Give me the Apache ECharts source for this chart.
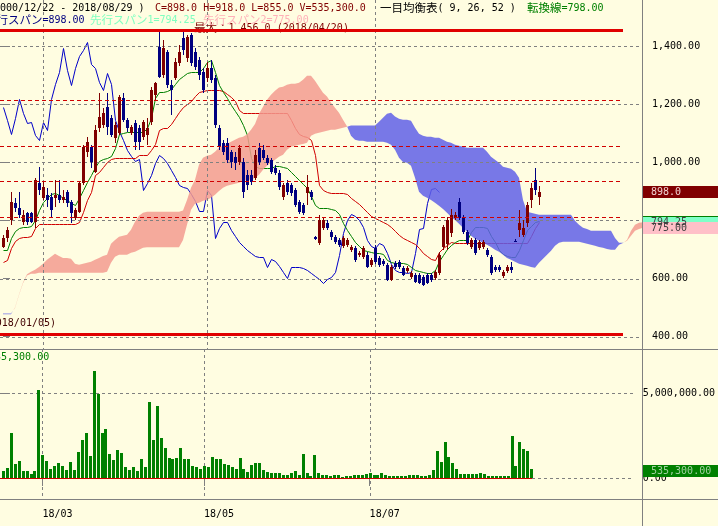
<!DOCTYPE html>
<html><head><meta charset="utf-8">
<script src="https://cdn.jsdelivr.net/npm/echarts@6/dist/echarts.min.js"></script>
<style>html,body{margin:0;padding:0;background:#fffde1;}#c{width:718px;height:526px;}</style>
</head><body><div id="c"></div><script>
// ---- trading days (categories) ----
const febDays = [15,16,19,20,21,22,23,26,27,28];
const marDays = [1,2,5,6,7,8,9,12,13,14,15,16,19,20,22,23,26,27,28,29,30];
const aprDays = [2,3,4,5,6,9,10,11,12,13,16,17,18,19,20,23,24,25,26,27];
const mayDays = [1,2,7,8,9,10,11,14,15,16,17,18,21,22,23,24,25,28,29,30,31];
const junDays = [1,4,5,6,7,8,11,12,13,14,15,18,19,20,21,22,25,26,27,28,29];
const julDays = [2,3,4,5,6,9,10,11,12,13,17,18,19,20,23,24,25,26,27,30,31];
const augDays = [1,2,3,6,7,8,9,10,13,14,15,16,17,20,21,22,23,24,27,28,29];
const labelMonths = ['2018/03','2018/05','2018/07'];

// ---- prices ----
const opens  = [709,740,802,861,844,796,827,827,796,930,878,889,882,878,889,871,899,864,809,830,930,1037,1054,968,1120,1130,1192,1154,1085,1102,1223,1147,1102,1137,1120,1089,1096,1140,1233,1399,1302,1382,1268,1292,1344,1430,1361,1440,1382,1354,1313,1292,1327,1292,1120,1068,1068,1037,1020,1002,1002,958,958,947,1051,1044,1016,1009,982,964,882,930,923,906,864,854,896,899,744,723,775,792,761,744,733,713,716,699,706,682,675,682,647,706,671,661,647,596,654,658,637,627,606,613,613,606,613,613,602,620,709,720,758,809,864,813,761,709,733,706,709,699,675,640,640,609,627,640,730,768,751,792,871,940,882];
const closes = [740,768,864,844,820,820,796,796,940,906,916,871,837,889,871,882,861,827,837,930,1054,1071,1002,1113,1158,1171,1123,1096,1130,1227,1147,1120,1123,1071,1071,1140,1120,1251,1275,1296,1396,1268,1251,1347,1382,1389,1433,1344,1330,1302,1251,1327,1285,1130,1054,1037,1009,1002,999,1051,899,923,933,1027,1002,1016,999,968,964,916,923,899,896,854,830,827,916,882,737,802,802,775,744,727,716,740,733,709,664,689,706,640,664,658,647,651,596,640,640,640,613,637,620,589,585,578,585,596,623,682,778,802,820,820,809,761,723,733,689,727,727,682,620,630,630,623,640,630,727,792,775,854,913,906,898];
const highs  = [751,778,899,878,899,837,830,830,947,985,933,913,896,940,940,906,906,871,844,933,1061,1089,1061,1130,1240,1189,1240,1164,1140,1233,1240,1154,1130,1147,1130,1147,1154,1261,1278,1451,1423,1389,1285,1361,1406,1456,1440,1447,1396,1364,1327,1347,1354,1302,1130,1078,1085,1044,1037,1061,1016,975,975,1044,1068,1061,1027,1016,992,975,930,940,930,913,871,861,958,906,747,820,813,802,768,751,740,747,740,716,713,696,713,692,671,716,678,668,654,647,661,664,644,644,627,620,620,613,620,620,630,692,785,813,840,830,878,820,768,740,740,733,733,706,682,647,647,630,647,658,735,837,802,864,930,982,918];
const lows   = [706,727,785,830,809,785,785,792,775,889,871,847,813,847,861,861,847,792,802,827,923,1020,982,964,1106,1120,1096,1089,1068,1096,1140,1106,1096,1044,1044,1078,1061,1130,1216,1292,1292,1258,1164,1285,1333,1371,1347,1333,1320,1285,1240,1278,1275,1120,1044,1027,999,982,975,992,878,906,923,940,992,1009,992,961,958,906,871,889,885,847,823,820,854,871,733,716,768,768,733,720,709,706,709,692,658,675,668,637,640,651,640,644,592,592,633,633,609,620,599,585,582,575,582,589,596,613,699,699,744,800,802,754,716,702,682,699,702,675,613,623,623,602,620,620,725,744,744,778,844,889,855];
const volumes = [392000,588000,2650000,843000,1020000,431000,392000,255000,431000,5200000,1370000,1020000,549000,725000,882000,725000,490000,961000,490000,1550000,2250000,2650000,1310000,6310000,4960000,2650000,2880000,1430000,1080000,1670000,1470000,667000,490000,627000,431000,1140000,667000,4490000,2250000,4250000,2350000,1780000,1180000,1120000,1200000,1780000,1140000,1120000,725000,647000,549000,725000,647000,1250000,1140000,1140000,824000,765000,667000,549000,1200000,549000,373000,765000,882000,882000,490000,373000,314000,314000,314000,196000,196000,314000,431000,196000,1430000,314000,137000,1370000,314000,196000,196000,137000,196000,196000,78000,137000,137000,196000,196000,196000,235000,294000,157000,196000,294000,196000,137000,137000,98000,137000,137000,157000,157000,196000,137000,98000,196000,490000,1610000,961000,2140000,1250000,882000,549000,255000,255000,255000,216000,255000,294000,216000,137000,98000,137000,137000,98000,98000,2490000,725000,2140000,1730000,1610000,535300];

// ---- ichimoku (9, 26, 52) lines ----
const tenkan = [699,699,740,764,775,778,778,782,802,837,864,879,892,896,889,879,871,861,854,879,906,934,958,985,1006,1013,1016,1023,1051,1099,1102,1106,1106,1106,1106,1106,1120,1154,1223,1244,1244,1247,1254,1271,1289,1299,1309,1313,1313,1313,1327,1347,1354,1313,1268,1244,1223,1199,1178,1158,1130,1096,1016,989,982,982,982,982,989,989,985,982,968,954,940,927,913,885,854,844,844,844,840,837,823,792,768,747,727,713,699,696,692,689,689,685,665,658,654,654,654,651,640,630,627,623,620,620,630,661,682,702,716,727,733,733,733,761,778,778,778,775,747,727,699,685,678,675,675,699,733,768,782,796,798];
const kijun = [658,665,706,730,740,744,744,747,775,789,789,789,789,789,789,789,789,789,789,796,830,871,899,958,968,985,1002,1013,1016,1016,1016,1016,1016,1016,1027,1027,1027,1044,1064,1113,1120,1120,1133,1154,1175,1192,1202,1213,1230,1244,1247,1251,1251,1251,1251,1247,1237,1227,1213,1182,1171,1171,1171,1171,1171,1171,1171,1171,1171,1171,1171,1171,1147,1120,1099,1092,1089,1078,1027,923,906,899,896,896,896,896,892,878,868,858,844,830,816,809,802,796,789,778,764,751,740,733,727,720,706,689,678,668,665,692,706,716,727,723,723,723,723,723,723,723,723,723,723,723,723,723,723,723,723,723,723,723,747,775,796];
const chikou = [1192,1147,1099,1154,1220,1171,1137,1140,1096,1078,1140,1113,1220,1271,1313,1395,1320,1268,1327,1368,1389,1416,1340,1327,1278,1251,1309,1271,1147,1109,1078,1044,1023,1006,1013,906,930,958,999,1027,1016,999,975,951,923,916,913,892,868,834,834,906,889,740,775,796,796,768,747,727,713,699,689,678,675,675,640,668,661,644,623,602,640,640,640,637,630,620,609,599,585,599,606,623,682,758,802,823,816,802,778,733,713,706,723,716,689,651,630,623,623,620,623,689,771,775,861,909,913,898];
const spanA = [477,477,477,500,545,586,615,623,630,640,651,665,675,685,678,671,671,668,651,647,651,654,658,665,671,678,682,720,733,744,747,751,768,796,816,827,830,830,830,830,830,830,830,830,830,834,871,913,940,992,1016,1023,1027,1037,1051,1058,1064,1071,1078,1085,1089,1096,1113,1133,1168,1192,1216,1233,1247,1258,1261,1268,1271,1271,1275,1285,1299,1299,1282,1261,1240,1227,1206,1189,1171,1147,1125,1092,1078,1075,1075,1071,1071,1071,1071,1071,1068,1061,1044,1016,1002,999,989,947,899,885,878,871,861,851,840,827,813,802,789,775,761,747,737,730,723,716,709,699,692,682,671,665,658,651,647,644,640,637,654,668,682,696,713,723,727,727,727,727,727,723,720,716,713,709,706,702,699,699,716,722,733,765,785,792,794.25];
const spanB = [479,479,479,498,543,584,610,616,616,620,620,620,620,620,620,620,620,620,620,620,620,620,620,620,620,620,623,654,675,682,682,682,689,692,699,706,708,708,708,708,708,708,708,708,708,733,785,837,858,861,868,871,878,889,902,913,920,923,927,930,937,940,940,947,958,975,989,999,1009,1020,1027,1044,1054,1058,1061,1064,1068,1092,1099,1102,1106,1109,1113,1113,1116,1120,1123,1127,1127,1127,1127,1127,1127,1127,1140,1154,1168,1171,1158,1151,1147,1147,1144,1120,1099,1092,1089,1089,1085,1085,1078,1071,1068,1061,1058,1054,1051,1051,1051,1051,1051,1037,1020,1009,999,985,982,978,968,947,871,830,827,823,820,820,820,820,820,820,820,820,820,799,785,775,771,765,765,765,765,765,765,740,723,723,730,747,765,771,775];

// ---- reference levels ----
const maxPrice = 1456, maxDate = '2018/04/20';
const minPrice = 410, minDate = '2018/01/05';
const fibLevels = [1215, 1058, 937, 813];
const priceTicks = [400, 600, 800, 1000, 1200, 1400];
const priceLabels = [400, 600, 1000, 1200, 1400];
const volumeTicks = [0, 5000000];
const periodText = '(2000/12/22 - 2018/08/29 )';

// ---------------------------------------------------------------
const monthList = [['2018/02',febDays],['2018/03',marDays],['2018/04',aprDays],['2018/05',mayDays],['2018/06',junDays],['2018/07',julDays],['2018/08',augDays]];
const dates = [];
monthList.forEach(([m, ds]) => ds.forEach(d => dates.push(m + '/' + String(d).padStart(2, '0'))));
const monthStarts = labelMonths.map(m => dates.findIndex(d => d.startsWith(m)));
const last = closes.length - 1;
const futureEnd = spanA.length - 1;
const X_MIN = -0.75;
const lineEnd = last + 21;

const BG = '#fffde1';
const UP = '#800000', DOWN = '#000080';
const PINK = 'rgb(243,155,143)', BLUE = 'rgb(96,96,231)';
const MONO = '"DejaVu Sans Mono", monospace';
const CJK = '"Noto Sans CJK JP", sans-serif';
const fmt = (v, d) => v.toLocaleString('en-US', {minimumFractionDigits: d, maximumFractionDigits: d});

const chart = echarts.init(document.getElementById('c'), null, {renderer: 'canvas'});

function hLineSeries(name, gridIdx, items, color, width, dash, z) {
  return {
    name, type: 'custom', xAxisIndex: gridIdx, yAxisIndex: gridIdx, z, silent: true,
    data: items,
    renderItem(params, api) {
      const x0 = api.value(0), v = api.value(1), x1 = api.value(2);
      const p0 = api.coord([x0, v]), p1 = api.coord([x1, v]);
      const y = width % 2 ? Math.round(p0[1]) + 0.5 : Math.round(p0[1]);
      return {type: 'line', shape: {x1: Math.round(p0[0]), y1: y, x2: Math.round(p1[0]), y2: y},
        style: {stroke: color, lineWidth: width, lineDash: dash || null}};
    }
  };
}
function vLineSeries(gridIdx, idxs, z) {
  return {
    type: 'custom', xAxisIndex: gridIdx, yAxisIndex: gridIdx, z, silent: true,
    data: idxs.map(i => [i, 0]),
    renderItem(params, api) {
      const x = Math.round(api.coord([api.value(0), 0])[0]) + 0.5;
      const cs = params.coordSys;
      return {type: 'line', shape: {x1: x, y1: cs.y, x2: x, y2: cs.y + cs.height},
        style: {stroke: '#808080', lineWidth: 1, lineDash: [3, 3]}};
    }
  };
}
// crisp 1px polyline through the library's coordinate system
function polySeries(name, arr, color, z) {
  return {
    name, type: 'custom', xAxisIndex: 0, yAxisIndex: 0, z, silent: true,
    data: [[0, arr[0]]],
    renderItem(params, api) {
      const pts = arr.map((v, i) => { const p = api.coord([i, v]); return [Math.round(p[0]) + 0.5, Math.round(p[1]) + 0.5]; });
      return {type: 'polyline', shape: {points: pts}, style: {stroke: color, lineWidth: 1, fill: null}};
    }
  };
}

const option = {
  animation: false,
  backgroundColor: BG,
  grid: [
    {left: 0, top: 0, width: 643, height: 349},
    {left: 0, top: 349, width: 643, height: 150}
  ],
  xAxis: [
    {type: 'value', gridIndex: 0, min: X_MIN, max: futureEnd, show: false, splitLine: {show: false}},
    {type: 'value', gridIndex: 1, min: X_MIN, max: futureEnd, position: 'bottom',
      axisLine: {show: false}, splitLine: {show: false},
      axisTick: {show: true, customValues: monthStarts, length: 8, lineStyle: {color: '#808080'}},
      axisLabel: {customValues: monthStarts, align: 'left', margin: 10, fontFamily: MONO, fontSize: 10, color: '#000',
        formatter: v => { const d = dates[Math.round(v)]; return d ? d.slice(2, 7) : ''; }}}
  ],
  yAxis: [
    {type: 'value', gridIndex: 0, min: 357, max: 1560, position: 'right',
      axisLine: {show: false}, splitLine: {show: false},
      axisTick: {show: true, customValues: priceTicks, length: 7, lineStyle: {color: '#808080'}},
      axisLabel: {customValues: priceLabels, margin: 9, fontFamily: MONO, fontSize: 10, color: '#000',
        formatter: v => fmt(v, 2)}},
    {type: 'value', gridIndex: 1, min: -1235294, max: 7588235, position: 'right',
      axisLine: {show: false}, splitLine: {show: false},
      axisTick: {show: true, customValues: volumeTicks, length: 7, lineStyle: {color: '#808080'}},
      axisLabel: {customValues: volumeTicks, margin: 9, fontFamily: MONO, fontSize: 10, color: '#000',
        formatter: v => fmt(v, 2)}}
  ],
  series: [
    polySeries('chikou', chikou, '#0000c8', 2),
    polySeries('kijun', kijun, '#d00000', 2),
    polySeries('tenkan', tenkan, '#008000', 2),
    // cloud
    {name: 'cloud', type: 'custom', xAxisIndex: 0, yAxisIndex: 0, z: 3, silent: true,
      data: [[0, spanA[0]]],
      renderItem(params, api) {
        const children = [];
        let sign = null, ptsA = [], ptsB = [];
        const flush = () => {
          if (ptsA.length > 1) children.push({type: 'polygon',
            shape: {points: ptsA.concat(ptsB.slice().reverse())},
            style: {fill: sign > 0 ? PINK : BLUE, opacity: 0.85}});
        };
        for (let i = 0; i < spanA.length; i++) {
          const d = spanA[i] - spanB[i];
          const s = d >= 0 ? 1 : -1;
          if (sign === null) sign = s;
          if (s !== sign) {
            const d0 = spanA[i - 1] - spanB[i - 1];
            const t = d0 / (d0 - d);
            const p = api.coord([i - 1 + t, spanA[i - 1] + t * (spanA[i] - spanA[i - 1])]);
            ptsA.push(p); ptsB.push(p); flush();
            ptsA = [p]; ptsB = [p]; sign = s;
          }
          ptsA.push(api.coord([i, spanA[i]])); ptsB.push(api.coord([i, spanB[i]]));
        }
        flush();
        return {type: 'group', children};
      }},
    hLineSeries('grid', 0, priceTicks.map(v => [X_MIN, v, futureEnd]), '#808080', 1, [3, 3], 4),
    vLineSeries(0, monthStarts, 4),
    vLineSeries(1, monthStarts, 4),
    hLineSeries('vgrid', 1, [[X_MIN, volumeTicks[1], futureEnd], [last + 0.25, 0, futureEnd]], '#808080', 1, [3, 3], 4),
    {name: 'candles', type: 'custom', xAxisIndex: 0, yAxisIndex: 0, z: 5, silent: true,
      data: closes.map((c, i) => [i, opens[i], c, lows[i], highs[i]]),
      renderItem(params, api) {
        const i = api.value(0), o = api.value(1), c = api.value(2), l = api.value(3), h = api.value(4);
        const x = Math.round(api.coord([i, o])[0]);
        const yo = api.coord([i, o])[1], yc = api.coord([i, c])[1];
        const yh = Math.round(api.coord([i, h])[1]), yl = Math.round(api.coord([i, l])[1]);
        const col = c >= o ? UP : DOWN;
        const t = Math.round(Math.min(yo, yc)), b = Math.round(Math.max(yo, yc));
        return {type: 'group', children: [
          {type: 'rect', shape: {x: x, y: yh, width: 1, height: Math.max(1, yl - yh)}, style: {fill: col}},
          {type: 'rect', shape: {x: x - 1, y: t, width: 3, height: Math.max(1, b - t)}, style: {fill: col}}
        ]};
      }},
    hLineSeries('fib', 0, fibLevels.map(v => [X_MIN, v, lineEnd]), '#d00000', 1, [4, 3], 6),
    hLineSeries('maxmin', 0, [[X_MIN, maxPrice, lineEnd], [X_MIN, minPrice, lineEnd]], '#e00000', 3, null, 7),
    {name: 'volume', type: 'custom', xAxisIndex: 1, yAxisIndex: 1, z: 5, silent: true,
      data: volumes.map((v, i) => [i, v]),
      renderItem(params, api) {
        const i = api.value(0), v = api.value(1);
        const x = Math.round(api.coord([i, 0])[0]);
        const y0 = Math.round(api.coord([i, 0])[1]), y1 = Math.round(api.coord([i, v])[1]);
        return {type: 'rect', shape: {x: x - 1, y: y1, width: 3, height: Math.max(1, y0 - y1)}, style: {fill: '#008000'}};
      }},
    hLineSeries('vbase', 1, [[X_MIN, 0, last + 0.25]], '#d00000', 1, null, 6)
  ]
};
chart.setOption(option);

// ---- overlay texts, frame and price tags ----
const py = v => chart.convertToPixel({yAxisIndex: 0}, v);
const vy = v => chart.convertToPixel({yAxisIndex: 1}, v);
function txt(x, y, text, fill, font, align, z) {
  return {type: 'text', z: z || 50, silent: true, style: {x, y, text, fill, font, textAlign: align || 'left', textVerticalAlign: 'middle'}};
}
function rich(x, y, parts, align, z) {
  const rs = {}; let s = '';
  parts.forEach((p, k) => { rs['p' + k] = {fontFamily: p.cjk ? CJK : MONO, fontSize: p.cjk ? 11.5 : 10, fill: p.fill}; s += '{p' + k + '|' + p.t + '}'; });
  return {type: 'text', z: z || 50, silent: true, style: {x, y, text: s, rich: rs, textAlign: align || 'left', textVerticalAlign: 'middle'}};
}
function tag(v, yFn, bg, fg, text, dy) {
  const y = Math.round(yFn(v)) + (dy || 0);
  return [
    {type: 'rect', z: 60, silent: true, shape: {x: 643, y: y - 6, width: 75, height: 12}, style: {fill: bg}},
    txt(651, y, text, fg, '10px ' + MONO, 'left', 61)
  ];
}
const mono = '10px ' + MONO;
const g = [];
g.push({type: 'line', z: 40, silent: true, shape: {x1: 0, y1: 349.5, x2: 718, y2: 349.5}, style: {stroke: '#808080', lineWidth: 1}});
g.push({type: 'line', z: 40, silent: true, shape: {x1: 0, y1: 499.5, x2: 718, y2: 499.5}, style: {stroke: '#808080', lineWidth: 1}});
g.push({type: 'line', z: 40, silent: true, shape: {x1: 642.5, y1: 0, x2: 642.5, y2: 526}, style: {stroke: '#808080', lineWidth: 1}});
g.push(txt(-12, 8, periodText, '#000000', mono));
g.push(txt(155, 8, 'C=' + closes[last].toFixed(1) + ' H=' + highs[last].toFixed(1) + ' L=' + lows[last].toFixed(1) + ' V=' + fmt(volumes[last], 1), '#800000', mono));
g.push(rich(380, 8, [{t: '一目均衡表', cjk: 1, fill: '#000'}, {t: '( 9, 26, 52 )', fill: '#000'}]));
g.push(rich(527, 8, [{t: '転換線', cjk: 1, fill: '#008000'}, {t: '=' + tenkan[last].toFixed(2), fill: '#008000'}]));
g.push(rich(-15, 20, [{t: '遅行スパン', cjk: 1, fill: '#000080'}, {t: '=' + closes[last].toFixed(2), fill: '#000080'}]));
g.push(rich(90, 20, [{t: '先行スパン', cjk: 1, fill: '#80ffc0'}, {t: '1=' + spanA[futureEnd].toFixed(2), fill: '#80ffc0'}]));
g.push(rich(203, 20, [{t: '先行スパン', cjk: 1, fill: '#ffb0b8'}, {t: '2=' + spanB[futureEnd].toFixed(2), fill: '#ffb0b8'}]));
g.push(rich(194, 28, [{t: '最大：', cjk: 1, fill: '#800000'}, {t: fmt(maxPrice, 1) + ' (' + maxDate + ')', fill: '#800000'}], 'left', 5));
g.push(rich(56, 323, [{t: '最小：', cjk: 1, fill: '#400000'}, {t: fmt(minPrice, 1) + ' (' + minDate + ')', fill: '#400000'}], 'right', 5));
g.push(txt(-11, 357, fmt(volumes[last], 2), '#008000', mono));
g.push(...tag(closes[last], py, '#800000', '#f0d0d0', closes[last].toFixed(1)));
g.push(...tag(spanA[futureEnd], py, '#80ffc8', '#404040', spanA[futureEnd].toFixed(2)));
g.push({type: 'line', z: 60, silent: true, shape: {x1: 643, y1: Math.round(py(spanA[futureEnd])) - 5.5, x2: 718, y2: Math.round(py(spanA[futureEnd])) - 5.5}, style: {stroke: '#008000', lineWidth: 1}});
g.push(...tag(spanB[futureEnd], py, '#ffc0c8', '#404040', spanB[futureEnd].toFixed(2)));
g.push(...tag(volumes[last], vy, '#008000', '#a0d0a0', fmt(volumes[last], 2), 2));
chart.setOption({graphic: g});
</script></body></html>
